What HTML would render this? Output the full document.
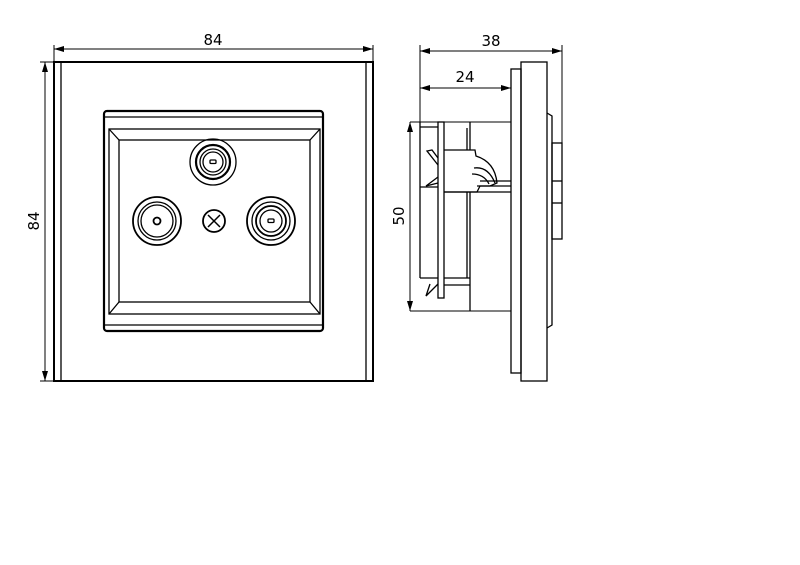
<!DOCTYPE html>
<html><head><meta charset="utf-8"><style>
html,body{margin:0;padding:0;background:#fff;}
svg{display:block;}
text{font-family:"DejaVu Sans","Liberation Sans",sans-serif;font-size:15px;fill:#000;}
</style></head><body>
<svg width="800" height="565" viewBox="0 0 800 565" xmlns="http://www.w3.org/2000/svg">
<defs>
<marker id="a" viewBox="0 0 10 6" refX="10" refY="3" markerWidth="10" markerHeight="6" orient="auto-start-reverse" markerUnits="userSpaceOnUse"><path d="M0,0 L10,3 L0,6 z" fill="#000"/></marker>
</defs>
<g fill="none" stroke="#000" stroke-width="1.3">
<!-- front plate -->
<rect x="54" y="62" width="319" height="319" stroke-width="2"/>
<line x1="61" y1="62" x2="61" y2="381"/>
<line x1="366" y1="62" x2="366" y2="381"/>
<rect x="104" y="111" width="219" height="220" rx="3" stroke-width="2.2"/>
<line x1="104" y1="117" x2="323" y2="117"/>
<line x1="104" y1="325" x2="323" y2="325"/>
<rect x="109" y="129" width="211" height="185"/>
<rect x="119" y="140" width="191" height="162"/>
<line x1="109" y1="129" x2="119" y2="140"/><line x1="320" y1="129" x2="310" y2="140"/>
<line x1="109" y1="314" x2="119" y2="302"/><line x1="320" y1="314" x2="310" y2="302"/>
<!-- top connector -->
<circle cx="213" cy="162" r="23"/>
<circle cx="213" cy="162" r="17" stroke-width="2.2"/>
<circle cx="213" cy="162" r="13"/>
<circle cx="213" cy="162" r="10"/>
<rect x="210" y="160" width="6" height="3.5" rx="1"/>
<!-- left connector -->
<circle cx="157" cy="221" r="24" stroke-width="1.8"/>
<circle cx="157" cy="221" r="19"/>
<circle cx="157" cy="221" r="16"/>
<circle cx="157" cy="221" r="3.5" stroke-width="1.8"/>
<!-- right connector -->
<circle cx="271" cy="221" r="24" stroke-width="1.8"/>
<circle cx="271" cy="221" r="19"/>
<circle cx="271" cy="221" r="15" stroke-width="1.8"/>
<circle cx="271" cy="221" r="11"/>
<rect x="268" y="219" width="6" height="3.5" rx="1"/>
<!-- screw -->
<circle cx="214" cy="221" r="11" stroke-width="1.8"/>
<path d="M208,215 L212,219 M220,215 L216,219 M208,227 L212,223 M220,227 L216,223 M212,219 L216,223 M216,219 L212,223" stroke-width="1.5"/>
<!-- dims front -->
<line x1="54" y1="45" x2="54" y2="62" stroke-width="1"/>
<line x1="373" y1="45" x2="373" y2="62" stroke-width="1"/>
<line x1="54" y1="49" x2="373" y2="49" stroke-width="1" marker-start="url(#a)" marker-end="url(#a)"/>
<line x1="40" y1="62" x2="54" y2="62" stroke-width="1"/>
<line x1="40" y1="381" x2="54" y2="381" stroke-width="1"/>
<line x1="45" y1="62" x2="45" y2="381" stroke-width="1" marker-start="url(#a)" marker-end="url(#a)"/>
<!-- side view -->
<rect x="511" y="69" width="10" height="304"/>
<rect x="521" y="62" width="26" height="319"/>
<path d="M547,113 L552,116 L552,325 L547,328"/>
<rect x="552" y="143" width="10" height="96"/>
<line x1="552" y1="181" x2="562" y2="181"/>
<line x1="552" y1="203" x2="562" y2="203"/>
<!-- module -->
<line x1="410" y1="122" x2="511" y2="122" stroke-width="1"/>
<line x1="410" y1="311" x2="511" y2="311" stroke-width="1"/>
<line x1="420" y1="122" x2="420" y2="278"/>
<line x1="420" y1="278" x2="438" y2="278"/>
<line x1="420" y1="127" x2="438" y2="127"/>
<line x1="420" y1="187" x2="438" y2="187"/>
<rect x="438" y="122" width="6" height="176"/>
<line x1="467" y1="128" x2="467" y2="150"/>
<line x1="470" y1="122" x2="470" y2="150"/>
<line x1="467" y1="192" x2="467" y2="278"/>
<line x1="470" y1="192" x2="470" y2="311"/>
<path d="M444,150 L475,150 L476,156 Q495,162 497,183 L490,186 L480,186 L477,192 L444,192"/>
<path d="M474,168 Q488,166 495,183 M472,174 Q484,174 489,184"/>
<line x1="480" y1="181" x2="511" y2="181"/>
<line x1="477" y1="186" x2="511" y2="186"/>
<line x1="444" y1="192" x2="511" y2="192"/>
<path d="M438,165 L427,151 L432,150 L438,158"/>
<path d="M438,183 L426,186 L438,177"/>
<path d="M438,284 L426,296 L430,284"/>
<line x1="444" y1="278" x2="470" y2="278"/>
<line x1="444" y1="285" x2="470" y2="285"/>
<!-- side dims -->
<line x1="420" y1="45" x2="420" y2="122" stroke-width="1"/>
<line x1="562" y1="45" x2="562" y2="143" stroke-width="1"/>
<line x1="420" y1="51" x2="562" y2="51" stroke-width="1" marker-start="url(#a)" marker-end="url(#a)"/>
<line x1="420" y1="88" x2="511" y2="88" stroke-width="1" marker-start="url(#a)" marker-end="url(#a)"/>
<line x1="410" y1="122" x2="410" y2="311" stroke-width="1" marker-start="url(#a)" marker-end="url(#a)"/>
</g>
<text x="213" y="45" text-anchor="middle">84</text>
<text x="491" y="46" text-anchor="middle">38</text>
<text x="465" y="82" text-anchor="middle">24</text>
<text transform="translate(39,221) rotate(-90)" text-anchor="middle">84</text>
<text transform="translate(404,216) rotate(-90)" text-anchor="middle">50</text>
</svg>
</body></html>
